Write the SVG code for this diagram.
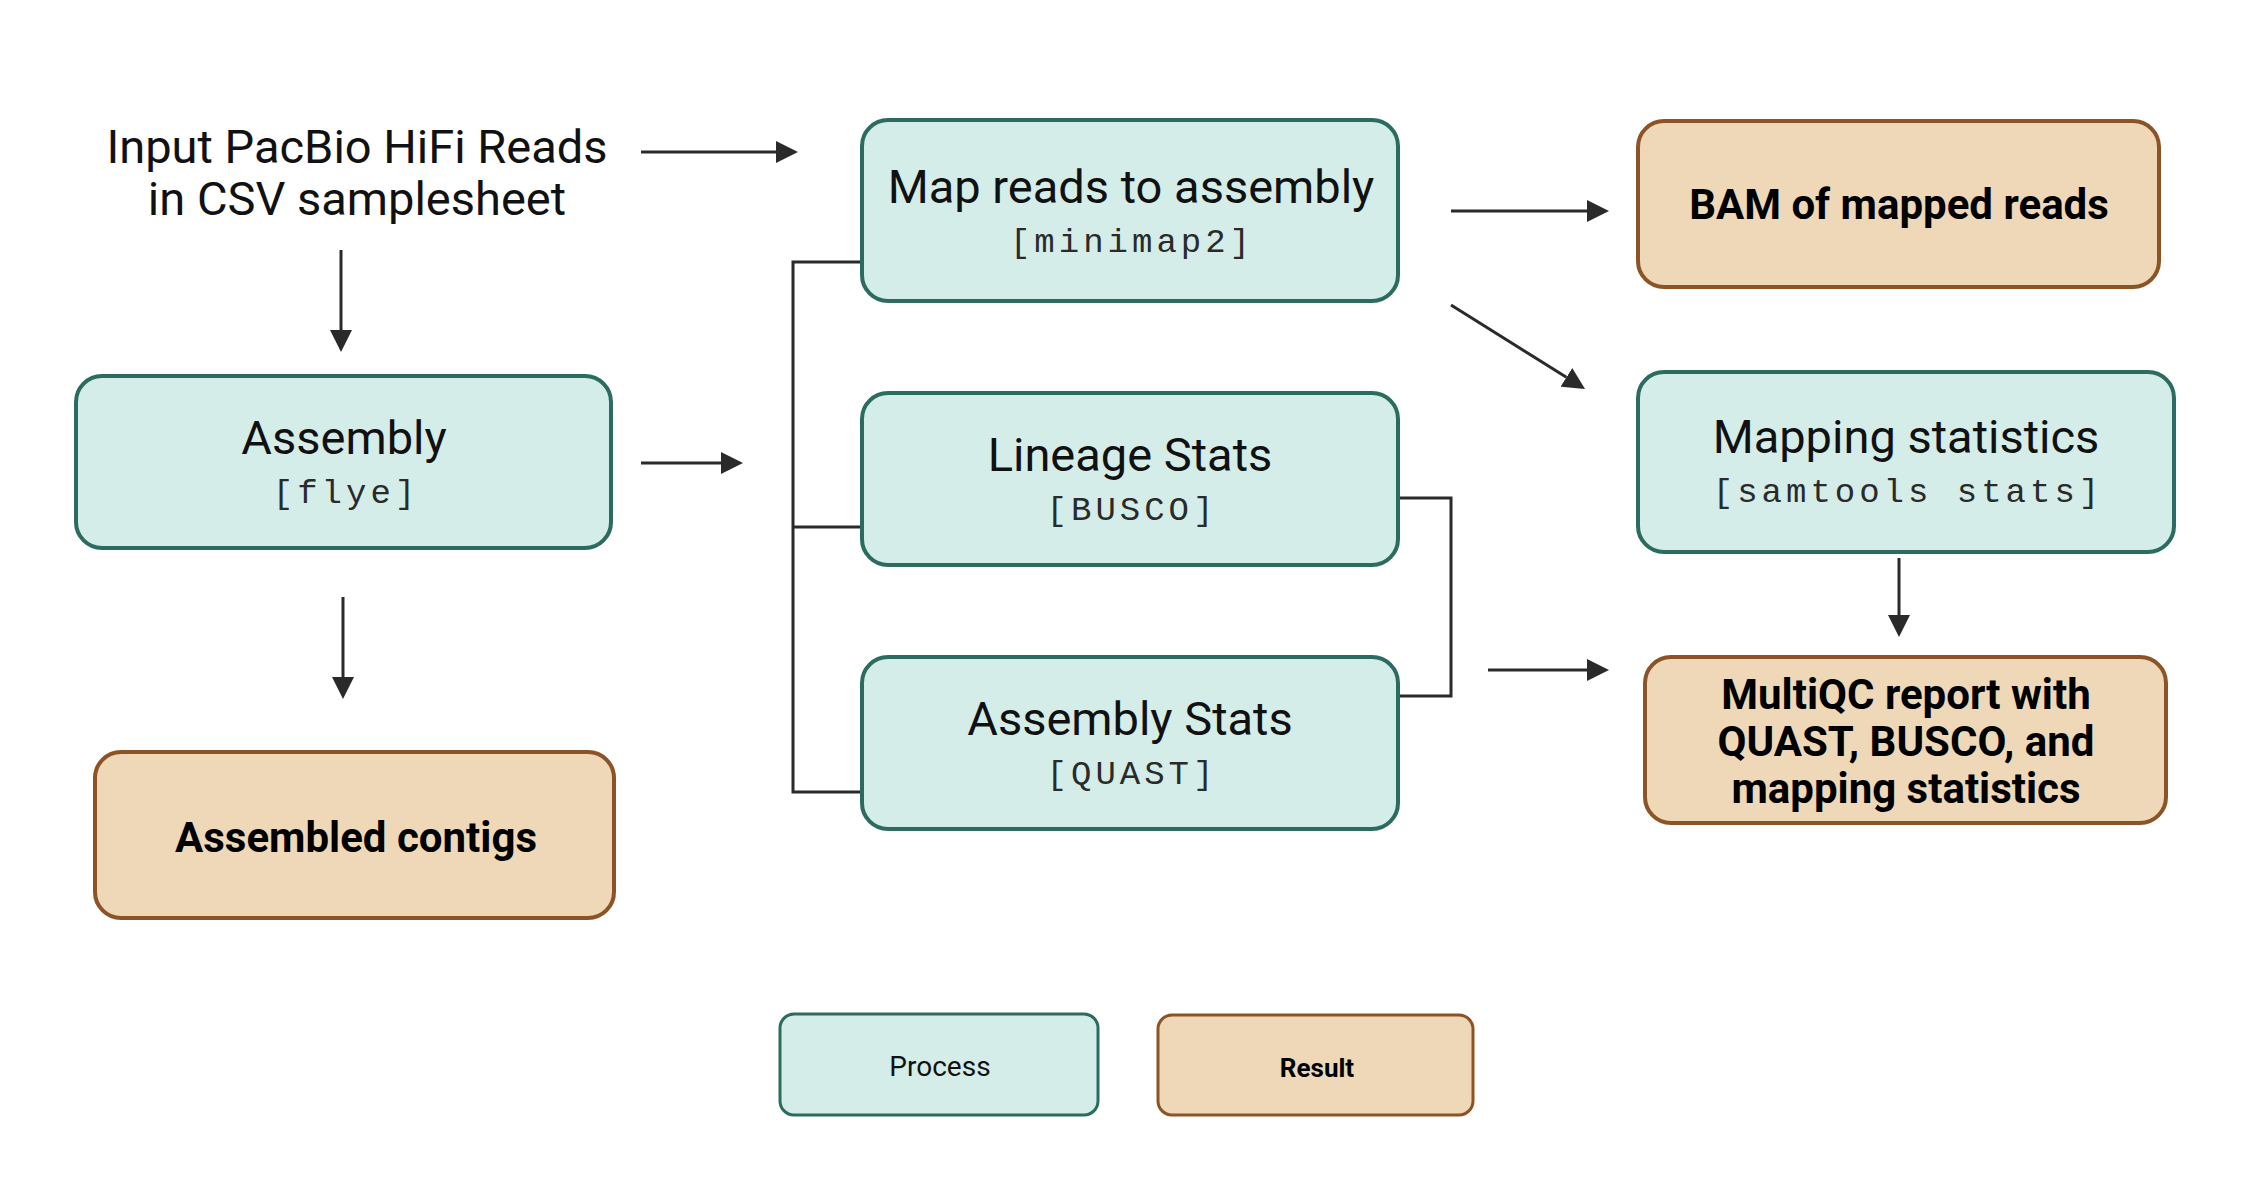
<svg xmlns="http://www.w3.org/2000/svg" width="2250" height="1200" viewBox="0 0 2250 1200">
<style>
.proc{fill:#d4ede9;stroke:#2c6b5f;stroke-width:4}
.res{fill:#eed8b8;stroke:#8c5426;stroke-width:4}
.t{font-family:Roboto,"Liberation Sans",sans-serif;font-size:47px;fill:#111;text-anchor:middle}
.b{font-family:Roboto,"Liberation Sans",sans-serif;font-size:42px;font-weight:bold;fill:#000;text-anchor:middle}
.m{font-family:"Liberation Mono","Courier New",monospace;font-size:34px;letter-spacing:4px;fill:#2a2a2a;text-anchor:middle}
.ln{fill:none;stroke:#2a2a2a;stroke-width:3}
</style>
<defs>
<marker id="ah" markerUnits="userSpaceOnUse" markerWidth="22" markerHeight="22" refX="0" refY="11" orient="auto" viewBox="0 0 22 22">
<path d="M0,0 L22,11 L0,22 Z" fill="#2a2a2a"/>
</marker>
</defs>
<rect width="2250" height="1200" fill="#fff"/>
<g id="input">
<text class="t" x="357" y="163">Input PacBio HiFi Reads</text>
<text class="t" x="357" y="215">in CSV samplesheet</text>
</g>
<g id="connectors">
<path class="ln" d="M641,152 H776" marker-end="url(#ah)"/>
<path class="ln" d="M341,250 V330" marker-end="url(#ah)"/>
<path class="ln" d="M641,463 H721" marker-end="url(#ah)"/>
<path class="ln" d="M343,597 V677" marker-end="url(#ah)"/>
<path class="ln" d="M1451,211 H1587" marker-end="url(#ah)"/>
<path class="ln" d="M1451,305 L1566.4,377.3" marker-end="url(#ah)"/>
<path class="ln" d="M1899,558 V615" marker-end="url(#ah)"/>
<path class="ln" d="M1488,670 H1587" marker-end="url(#ah)"/>
<path class="ln" d="M862,262 H793 V792 H862 M793,527 H862"/>
<path class="ln" d="M1398,498 H1451 V696 H1398"/>
</g>
<g id="assembly">
<rect class="proc" x="76" y="376" width="535" height="172" rx="26"/>
<text class="t" x="344" y="454">Assembly</text>
<text class="m" x="346" y="503">[flye]</text>
</g>
<g id="contigs">
<rect class="res" x="95" y="752" width="519" height="166" rx="26"/>
<text class="b" x="356" y="852">Assembled contigs</text>
</g>
<g id="map">
<rect class="proc" x="862" y="120" width="536" height="181" rx="26"/>
<text class="t" x="1131" y="203">Map reads to assembly</text>
<text class="m" x="1132" y="252">[minimap2]</text>
</g>
<g id="lineage">
<rect class="proc" x="862" y="393" width="536" height="172" rx="26"/>
<text class="t" x="1130" y="471">Lineage Stats</text>
<text class="m" x="1132" y="520">[BUSCO]</text>
</g>
<g id="asmstats">
<rect class="proc" x="862" y="657" width="536" height="172" rx="26"/>
<text class="t" x="1130" y="735">Assembly Stats</text>
<text class="m" x="1132" y="784">[QUAST]</text>
</g>
<g id="bam">
<rect class="res" x="1638" y="121" width="521" height="166" rx="26"/>
<text class="b" x="1899" y="219">BAM of mapped reads</text>
</g>
<g id="mapping">
<rect class="proc" x="1638" y="372" width="536" height="180" rx="26"/>
<text class="t" x="1906" y="453">Mapping statistics</text>
<text class="m" x="1908" y="502">[samtools stats]</text>
</g>
<g id="multiqc">
<rect class="res" x="1645" y="657" width="521" height="166" rx="26"/>
<text class="b" x="1906" y="709">MultiQC report with</text>
<text class="b" x="1906" y="756">QUAST, BUSCO, and</text>
<text class="b" x="1906" y="803">mapping statistics</text>
</g>
<g id="legend-process">
<rect x="780" y="1014" width="318" height="101" rx="14" fill="#d4ede9" stroke="#2c6b5f" stroke-width="3"/>
<text x="940" y="1076" font-family="Roboto,'Liberation Sans',sans-serif" font-size="28" fill="#111" text-anchor="middle">Process</text>
</g>
<g id="legend-result">
<rect x="1158" y="1015" width="315" height="100" rx="14" fill="#eed8b8" stroke="#8c5426" stroke-width="3"/>
<text x="1317" y="1077" font-family="Roboto,'Liberation Sans',sans-serif" font-size="26" font-weight="bold" fill="#000" text-anchor="middle">Result</text>
</g>
</svg>
